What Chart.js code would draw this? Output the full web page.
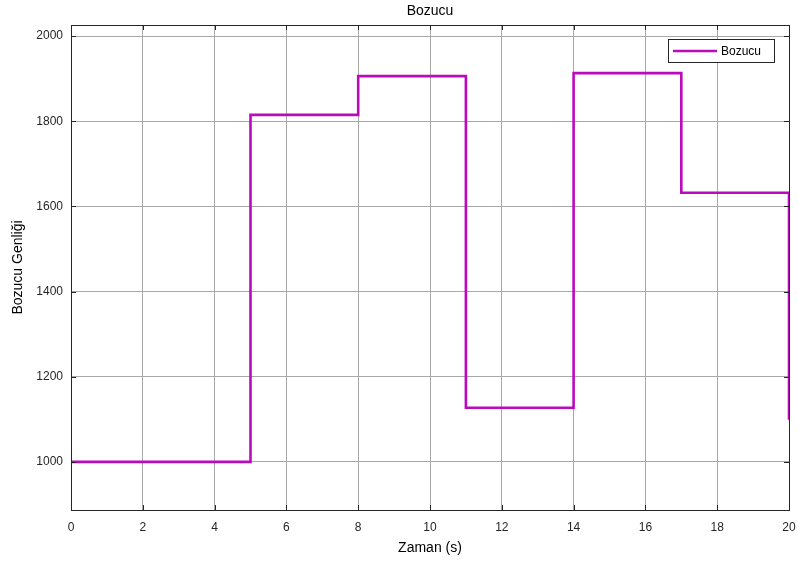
<!DOCTYPE html>
<html>
<head>
<meta charset="utf-8">
<script src="https://cdn.jsdelivr.net/npm/chart.js@4.4.0/dist/chart.umd.min.js"></script>
<style>
  html, body { margin: 0; padding: 0; background: #fff; }
  #wrap { width: 798px; height: 565px; }
</style>
</head>
<body>
<div id="wrap"><canvas id="chart" width="798" height="565"></canvas></div>
<script>
// Disturbance signal: held value per time segment
const times = [0, 5, 8, 11, 14, 17, 20];
const amplitudes = [1000, 1815, 1906, 1127, 1913, 1632, 1099];
const xTicks = [0, 2, 4, 6, 8, 10, 12, 14, 16, 18, 20];
const yTicks = [1000, 1200, 1400, 1600, 1800, 2000];
const chartTitle = 'Bozucu';

const lineColor = '#bb0abb';
const fontFamily = '"Liberation Sans", Arial, sans-serif';

const points = times.map((t, i) => ({ x: t, y: amplitudes[i] }));

// Title over the plot area, box, inner tick marks and legend
const boxPlugin = {
    id: 'boxPlugin',
    afterDatasetsDraw(chart) {
        const { ctx, chartArea: a, scales } = chart;
        ctx.save();

        ctx.fillStyle = '#000';
        ctx.font = '14px ' + fontFamily;
        ctx.textAlign = 'center';
        ctx.textBaseline = 'middle';
        ctx.fillText(chartTitle, (a.left + a.right) / 2, 11);

        ctx.strokeStyle = '#262626';
        ctx.lineWidth = 1;
        ctx.strokeRect(a.left + 0.5, a.top + 0.5, a.right - a.left, a.bottom - a.top);

        const len = 5;
        ctx.beginPath();
        xTicks.forEach(v => {
            const x = Math.round(scales.x.getPixelForValue(v)) + 0.5;
            ctx.moveTo(x, a.bottom); ctx.lineTo(x, a.bottom - len);
            ctx.moveTo(x, a.top); ctx.lineTo(x, a.top + len);
        });
        yTicks.forEach(v => {
            const y = Math.round(scales.y.getPixelForValue(v)) + 0.5;
            ctx.moveTo(a.left, y); ctx.lineTo(a.left + len, y);
            ctx.moveTo(a.right, y); ctx.lineTo(a.right - len, y);
        });
        ctx.stroke();

        // legend
        const lx = 668, ly = 39, lw = 106, lh = 23;
        ctx.fillStyle = '#fff';
        ctx.fillRect(lx, ly, lw, lh);
        ctx.strokeStyle = '#262626';
        ctx.strokeRect(lx + 0.5, ly + 0.5, lw, lh);
        ctx.strokeStyle = lineColor;
        ctx.lineWidth = 2.5;
        ctx.beginPath();
        ctx.moveTo(lx + 5, ly + lh / 2 + 0.5);
        ctx.lineTo(lx + 49, ly + lh / 2 + 0.5);
        ctx.stroke();
        ctx.fillStyle = '#000';
        ctx.font = '12px ' + fontFamily;
        ctx.textAlign = 'left';
        ctx.fillText(chart.data.datasets[0].label, lx + 53, ly + lh / 2 + 1);
        ctx.restore();
    }
};

new Chart(document.getElementById('chart'), {
    type: 'line',
    data: {
        datasets: [{
            label: 'Bozucu',
            data: points,
            stepped: 'before',
            borderColor: lineColor,
            borderWidth: 2.6,
            pointRadius: 0,
            fill: false
        }]
    },
    options: {
        responsive: false,
        animation: false,
        layout: { padding: { top: 25, right: 9, left: 0, bottom: 0 } },
        plugins: {
            legend: { display: false },
            tooltip: { enabled: false },
            title: { display: false }
        },
        scales: {
            x: {
                type: 'linear',
                min: 0,
                max: 20,
                afterBuildTicks: scale => { scale.ticks = xTicks.map(v => ({ value: v })); },
                afterFit: scale => {
                    scale.height = 55;
                    scale.paddingRight = 0;
                    scale.paddingLeft = 0;
                },
                grid: { color: '#a8a8a8', drawTicks: false },
                border: { display: false },
                ticks: {
                    color: '#262626', padding: 10,
                    font: { family: fontFamily, size: 12 },
                    callback: v => String(v)
                },
                title: {
                    display: true,
                    text: 'Zaman (s)',
                    color: '#000',
                    font: { family: fontFamily, size: 14 },
                    padding: { top: 0, bottom: 8 }
                }
            },
            y: {
                type: 'linear',
                min: 887,
                max: 2026,
                afterBuildTicks: scale => { scale.ticks = yTicks.map(v => ({ value: v })); },
                afterFit: scale => {
                    scale.width = 71;
                    scale.paddingTop = 0;
                    scale.paddingBottom = 0;
                },
                grid: { color: '#a8a8a8', drawTicks: false },
                border: { display: false },
                ticks: {
                    color: '#262626', padding: 8,
                    font: { family: fontFamily, size: 12 },
                    callback: v => String(v)
                },
                title: {
                    display: true,
                    text: 'Bozucu Genliği',
                    color: '#000',
                    font: { family: fontFamily, size: 14 },
                    padding: { top: 10, bottom: 0 }
                }
            }
        }
    },
    plugins: [boxPlugin]
});
</script>
</body>
</html>
